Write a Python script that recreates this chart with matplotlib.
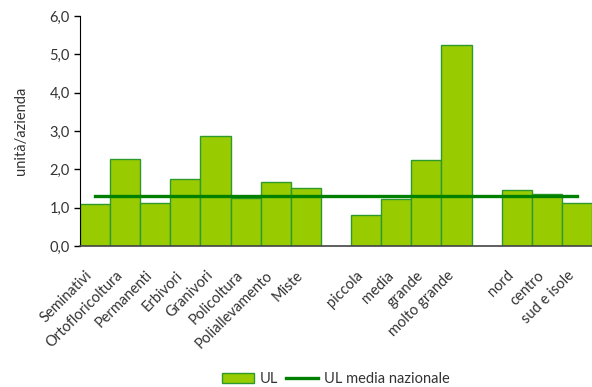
import matplotlib
matplotlib.use("Agg")
import matplotlib.pyplot as plt
import matplotlib.transforms as mtransforms
import numpy as np

plt.rcParams['font.family'] = ['Lato', 'DejaVu Sans']

# data
ordinamento = ['Seminativi', 'Ortofloricoltura', 'Permanenti', 'Erbivori',
               'Granivori', 'Policoltura', 'Poliallevamento', 'Miste']
ul_ordinamento = [1.09, 2.26, 1.12, 1.76, 2.86, 1.24, 1.68, 1.52]

dimensione = ['piccola', 'media', 'grande', 'molto grande']
ul_dimensione = [0.80, 1.23, 2.24, 5.24]

area = ['nord', 'centro', 'sud e isole']
ul_area = [1.47, 1.35, 1.11]

media_nazionale = 1.30

# build positions with an empty slot between groups
groups = [(ordinamento, ul_ordinamento), (dimensione, ul_dimensione), (area, ul_area)]
labels, values, pos = [], [], []
p = 0
for names, vals in groups:
    for n, v in zip(names, vals):
        labels.append(n)
        values.append(v)
        pos.append(p)
        p += 1
    p += 1
pos = np.array(pos)

text_col = '#333333'
fs = 10.5

fig = plt.figure(figsize=(5.92, 3.87), dpi=100)
ax = fig.add_axes([0.1351, 0.3643, 0.8649, 0.5944])

bars = ax.bar(pos, values, width=1.0, color='#99CC00', edgecolor='#2E9A2E',
              linewidth=1.0, label='UL', zorder=2)
line, = ax.plot(pos, np.full(len(pos), media_nazionale), color='#008000',
                linewidth=2.4, label='UL media nazionale', zorder=3)

ax.set_xlim(-0.5, pos[-1] + 0.5)
ax.set_ylim(0, 6)
yt = np.arange(0, 6.1, 1)
ax.set_yticks(yt)
ax.set_yticklabels([f"{v:.1f}".replace('.', ',') for v in yt],
                   fontsize=fs, color=text_col)
ax.set_xticks(pos)
ax.set_xticklabels(labels, rotation=45, ha='right', fontsize=fs, color=text_col)
# nudge the rotated labels a little to the left, as in the original
shift = mtransforms.ScaledTranslation(-3 / 72, 0, fig.dpi_scale_trans)
for t in ax.get_xticklabels():
    t.set_transform(t.get_transform() + shift)
ax.tick_params(axis='x', length=0, pad=16)
ax.tick_params(axis='y', length=4.5, width=1, color='black', pad=3)

ax.set_ylabel('unità/azienda', fontsize=fs, color=text_col, labelpad=15)

for s in ['top', 'right']:
    ax.spines[s].set_visible(False)
ax.spines['left'].set_color('black')
ax.spines['bottom'].set_color('#444444')
ax.spines['bottom'].set_linewidth(1.2)

leg = fig.legend([bars, line], ['UL', 'UL media nazionale'], loc='center',
                 bbox_to_anchor=(0.567, 0.02), ncol=2, frameon=False,
                 fontsize=fs, handlelength=2.2, handletextpad=0.4, columnspacing=0.5)
for t in leg.get_texts():
    t.set_color(text_col)

fig.savefig('out.png', dpi=100)
